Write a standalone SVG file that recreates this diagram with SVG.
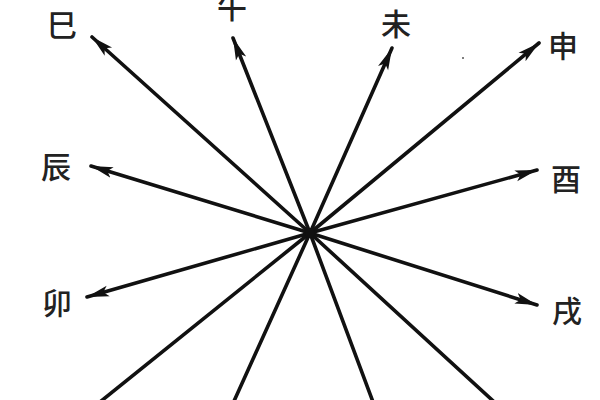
<svg xmlns="http://www.w3.org/2000/svg" width="600" height="400" viewBox="0 0 600 400">
<defs>
<marker id="ah" markerUnits="userSpaceOnUse" markerWidth="26" markerHeight="16" refX="22" refY="7" orient="auto">
<path d="M0,1.5 L22,7 L0,12.5 L5,7 Z" fill="#111"/>
</marker>
<style>
.ln{stroke:#111;stroke-width:3.6;fill:none;stroke-linecap:round}
.ar{marker-end:url(#ah)}
.lb{font-family:"Noto Sans CJK SC","Noto Sans CJK JP",sans-serif;font-size:30px;font-weight:500;fill:#222;text-anchor:middle}
</style>
</defs>
<rect width="600" height="400" fill="#fff"/>
<g id="connectors">
<line class="ln ar" x1="310" y1="233" x2="92" y2="37"/>
<line class="ln ar" x1="310" y1="233" x2="233" y2="38"/>
<line class="ln ar" x1="310" y1="233" x2="392" y2="48"/>
<line class="ln ar" x1="310" y1="233" x2="539" y2="43"/>
<line class="ln ar" x1="310" y1="233" x2="91" y2="166"/>
<line class="ln ar" x1="310" y1="233" x2="537" y2="170"/>
<line class="ln ar" x1="310" y1="233" x2="87" y2="297"/>
<line class="ln ar" x1="310" y1="233" x2="537" y2="305"/>
<line class="ln" x1="310" y1="233" x2="90" y2="410"/>
<line class="ln" x1="310" y1="233" x2="230" y2="410"/>
<line class="ln" x1="310" y1="233" x2="376" y2="410"/>
<line class="ln" x1="310" y1="233" x2="503" y2="410"/>
<circle cx="310" cy="233" r="5" fill="#111"/>
</g>
<g id="n-si"><text class="lb" x="62" y="36">巳</text></g>
<g id="n-wu"><text class="lb" x="232" y="18">午</text></g>
<g id="n-wei"><text class="lb" x="396" y="35">未</text></g>
<g id="n-shen"><text class="lb" x="563" y="57">申</text></g>
<g id="n-chen"><text class="lb" x="56" y="178">辰</text></g>
<g id="n-you"><text class="lb" x="566" y="190">酉</text></g>
<g id="n-mao"><text class="lb" x="57" y="314">卯</text></g>
<g id="n-xu"><text class="lb" x="567" y="322">戌</text></g>
<circle cx="463" cy="58" r="1" fill="#555"/>
</svg>
